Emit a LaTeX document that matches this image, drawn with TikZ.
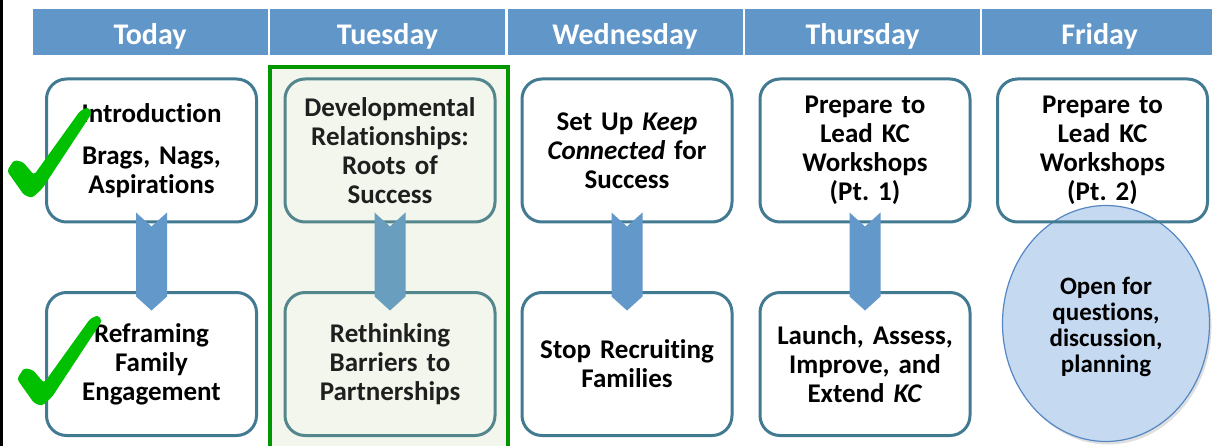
\documentclass[tikz,border=0pt]{standalone}
\usepackage{fontspec}
\setmainfont{Carlito}[Ligatures=NoCommon]
\frenchspacing
\usetikzlibrary{calc,shadows,shapes.geometric}
\definecolor{hdrblue}{RGB}{97,150,201}
\definecolor{boxline}{RGB}{66,122,146}
\definecolor{arrblue}{RGB}{99,152,202}
\definecolor{arrteal}{RGB}{105,158,190}
\definecolor{frgreen}{RGB}{0,150,0}
\definecolor{frfill}{RGB}{242,246,236}
\definecolor{tueline}{RGB}{84,134,142}
\definecolor{ellfill}{RGB}{197,217,240}
\definecolor{ellline}{RGB}{84,135,195}
\definecolor{chk}{RGB}{0,192,0}
\tikzset{
  hdrcell/.style={fill=hdrblue, minimum width=235pt, minimum height=46pt, inner sep=0pt, outer sep=0pt},
  hdrtext/.style={text=white, font=\fontsize{30}{31}\selectfont\bfseries, inner sep=0pt, anchor=base},
  daybox/.style={draw=boxline, line width=3pt, fill=white, rounded corners=20pt,
    minimum width=210pt, minimum height=143pt, text width=205pt, align=center,
    font=\fontsize{27}{29}\selectfont\bfseries, inner sep=0pt},
  tuebox/.style={daybox, draw=tueline, fill=frfill, text=black!88},
  openbox/.style={daybox, fill=none},
  frame/.style={draw=frgreen, line width=4pt, fill=frfill},
  oval/.style={ellipse, draw=ellline, line width=1.2pt, fill=ellfill, minimum width=207pt,
    minimum height=236pt, inner sep=0pt,
    drop shadow={shadow xshift=2pt, shadow yshift=-3pt, opacity=0.25}},
  ovaltext/.style={align=center, inner sep=0pt, font=\fontsize{25}{26}\selectfont\bfseries},
  checkmark/.style={fill=chk, rounded corners=3pt}
}
\newcommand{\dayarrow}[3]{%
  \fill[#3] ($(#1.south)+(-15.5,-11)$) -- ($(#1.south)+(0,3)$) -- ($(#1.south)+(15.5,-11)$)
    -- ($(#2.north)+(15.5,5.5)$) -- ($(#2.north)+(0,19.5)$) -- ($(#2.north)+(-15.5,5.5)$) -- cycle;}
\newcommand{\bigcheck}[2]{%
  \fill[checkmark, shift={(#1,#2)}] (7,171) -- (14,160) -- (23,162) -- (34,175) -- (80,111)
    -- (88,107) -- (92,113) -- (42,189) -- (32,198) -- (24,195) -- cycle;}
\begin{document}
\begin{tikzpicture}[x=1pt, y=-1pt]
\useasboundingbox (0,0) rectangle (1212,446);
\clip (0,0) rectangle (1212,446);
\fill[black] (0,0) rectangle (2.5,446);
% header
\foreach \cx/\nm/\lab in {150/h1/Today, 387.5/h2/Tuesday, 625/h3/Wednesday, 862.5/h4/Thursday, 1099.5/h5/Friday}{
  \node[hdrcell] (\nm) at (\cx,32) {};
  \node[hdrtext] (\nm t) at ($(\nm.center)+(0,13)$) {\lab};
}
% Tuesday frame
\path[frame] (270,67) rectangle (508,460);
% boxes
\node[daybox] (t1) at (151.5,150.5) {Introduction\\[13pt]Brags, Nags,\\Aspirations};
\node[daybox] (b1) at (151.5,364) {Reframing\\Family\\Engagement};
\node[tuebox] (t2) at (390,150.5) {Developmental\\Relationships:\\Roots of\\Success};
\node[tuebox] (b2) at (390,364) {Rethinking\\Barriers to\\Partnerships};
\node[daybox] (t3) at (627,150.5) {Set Up \textit{Keep}\\\textit{Connected} for\\Success};
\node[daybox] (b3) at (627,364) {Stop Recruiting\\Families};
\node[daybox] (t4) at (865,150.5) {Prepare to\\Lead KC\\Workshops\\(Pt. 1)};
\node[daybox] (b4) at (865,364) {Launch, Assess,\\Improve, and\\Extend \textit{KC}};
% arrows
\dayarrow{t1}{b1}{arrblue}
\dayarrow{t2}{b2}{arrteal}
\dayarrow{t3}{b3}{arrblue}
\dayarrow{t4}{b4}{arrblue}
% Friday
\node[oval] (open) at (1106,323.5) {};
\node[ovaltext] (opent) at ($(open.center)+(0,3)$) {Open for\\questions,\\discussion,\\planning};
\node[openbox] (t5) at (1102.5,150.5) {Prepare to\\Lead KC\\Workshops\\(Pt. 2)};
% check marks
\bigcheck{0}{0}
\bigcheck{10}{208}
\end{tikzpicture}
\end{document}
